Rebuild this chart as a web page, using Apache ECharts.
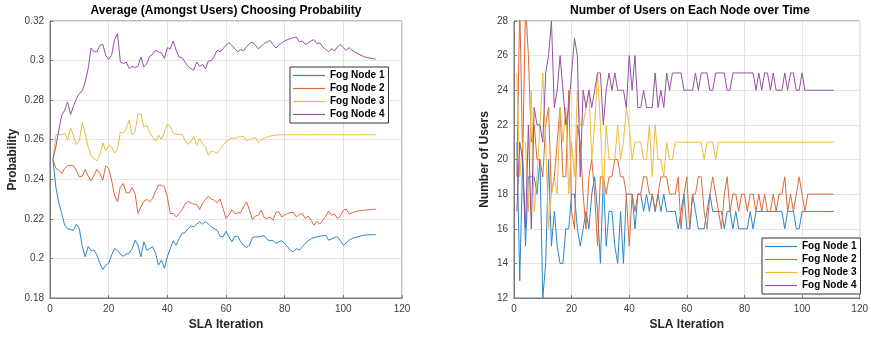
<!DOCTYPE html>
<html>
<head>
<meta charset="utf-8">
<script src="https://cdn.jsdelivr.net/npm/echarts@6/dist/echarts.min.js"></script>
<style>
html,body{margin:0;padding:0;background:#fff;}
#chart{width:871px;height:338px;}
</style>
</head>
<body>
<div id="chart"></div>
<script>
// ---------- data ----------
const seriesNames = ['Fog Node 1', 'Fog Node 2', 'Fog Node 3', 'Fog Node 4'];
const xTicks = [0, 20, 40, 60, 80, 100, 120];
const probTicks = [0.18, 0.20, 0.22, 0.24, 0.26, 0.28, 0.30, 0.32];
const userTicks = [12, 14, 16, 18, 20, 22, 24, 26, 28];

// Average choosing probability (iterations 1..111)
const probNode1 = [
0.25,0.236,0.228,0.2227,0.2168,0.215,0.2146,0.2142,0.2173,0.215,
0.206,0.2008,0.206,0.204,0.2042,0.2017,0.1975,0.1944,0.1966,0.1975,
0.2017,0.205,0.204,0.2022,0.2011,0.2022,0.2025,0.205,0.2092,0.2067,
0.2008,0.2084,0.2042,0.205,0.2059,0.2025,0.1966,0.1992,0.195,0.2008,
0.205,0.2089,0.2067,0.2101,0.2126,0.213,0.215,0.2163,0.216,0.2173,
0.2185,0.2173,0.2188,0.2173,0.216,0.215,0.2142,0.2112,0.2109,0.2137,
0.2109,0.2084,0.2112,0.2112,0.2084,0.2067,0.2055,0.2067,0.2106,0.2109,
0.2109,0.2112,0.2115,0.2096,0.2089,0.2092,0.2076,0.2084,0.2089,0.2076,
0.2059,0.2039,0.2034,0.205,0.2042,0.2059,0.2076,0.2089,0.2099,0.2106,
0.2109,0.2112,0.2115,0.2117,0.2092,0.2099,0.2106,0.2109,0.2089,0.2067,
0.2079,0.2092,0.2101,0.2106,0.211,0.2114,0.2117,0.2119,0.212,0.212,0.212];
const probNode2 = [
0.25,0.2455,0.2446,0.2429,0.2455,0.2468,0.2471,0.2468,0.2443,0.2412,
0.2416,0.245,0.2416,0.2392,0.2421,0.245,0.2429,0.2396,0.2468,0.2455,
0.2396,0.232,0.2286,0.2362,0.2379,0.2331,0.2331,0.2358,0.2328,0.2227,
0.2261,0.2289,0.2298,0.2286,0.2303,0.2341,0.237,0.237,0.2362,0.2311,
0.2227,0.2227,0.221,0.2227,0.2244,0.2274,0.2289,0.2281,0.2274,0.2274,
0.2247,0.2278,0.2298,0.2315,0.23,0.2294,0.2281,0.23,0.2252,0.2202,
0.2219,0.2247,0.2227,0.223,0.2232,0.2261,0.2286,0.2244,0.2197,0.2214,
0.2219,0.2244,0.2207,0.2202,0.221,0.2193,0.2232,0.2236,0.221,0.2219,
0.2227,0.2232,0.2232,0.221,0.2222,0.2227,0.2202,0.2214,0.2193,0.2168,
0.2188,0.2173,0.2193,0.2214,0.224,0.2219,0.2224,0.2202,0.2214,0.2244,
0.2249,0.2224,0.223,0.2236,0.2239,0.2242,0.2244,0.2245,0.2247,0.2247,0.2249];
const probNode3 = [
0.25,0.2623,0.2628,0.2623,0.2634,0.2598,0.266,0.2623,0.2576,0.2595,
0.2685,0.2631,0.2564,0.2517,0.2505,0.2493,0.2522,0.2584,0.2543,0.2572,
0.2564,0.2533,0.255,0.2639,0.2634,0.2656,0.2698,0.2623,0.2639,0.2732,
0.2729,0.2665,0.2673,0.2634,0.2614,0.2592,0.2623,0.2601,0.2639,0.2678,
0.2668,0.2634,0.2628,0.2626,0.2628,0.2598,0.2577,0.2589,0.2618,0.2572,
0.2606,0.258,0.2564,0.2522,0.2543,0.2538,0.253,0.255,0.2572,0.2589,
0.2601,0.2609,0.2606,0.2614,0.2614,0.2618,0.2595,0.2601,0.2606,0.2611,
0.2584,0.2598,0.2608,0.2613,0.2618,0.2621,0.2623,0.2624,0.2625,0.2625,
0.2625,0.2625,0.2625,0.2625,0.2625,0.2625,0.2625,0.2625,0.2625,0.2625,
0.2625,0.2625,0.2625,0.2625,0.2625,0.2625,0.2625,0.2625,0.2625,0.2625,
0.2625,0.2625,0.2625,0.2625,0.2625,0.2625,0.2625,0.2625,0.2625,0.2625,0.2625];
const probNode4 = [
0.25,0.2564,0.2648,0.2724,0.2749,0.2791,0.2727,0.2769,0.2808,0.2833,
0.2847,0.2892,0.2959,0.3064,0.3044,0.3044,0.3077,0.3082,0.3027,0.3005,
0.3027,0.3106,0.3136,0.2993,0.2985,0.2993,0.2959,0.2971,0.2965,0.2971,
0.3018,0.2968,0.2985,0.3022,0.3032,0.3052,0.3044,0.3039,0.301,0.3065,
0.306,0.3099,0.3052,0.3018,0.3015,0.2993,0.2971,0.2959,0.2951,0.2993,
0.2971,0.2981,0.2959,0.2998,0.3,0.3022,0.3052,0.3044,0.306,0.3077,
0.309,0.3077,0.306,0.3044,0.3056,0.3049,0.3069,0.3086,0.3094,0.3077,
0.306,0.3072,0.3086,0.3094,0.3102,0.3082,0.3064,0.3077,0.3089,0.3099,
0.3106,0.3111,0.3116,0.3119,0.3094,0.3099,0.3082,0.3089,0.3099,0.3106,
0.3086,0.3089,0.3069,0.3056,0.3044,0.306,0.3049,0.3069,0.3082,0.3065,
0.3052,0.3065,0.3052,0.3042,0.3034,0.3027,0.302,0.3015,0.3012,0.301,0.3008];

// Number of users on each node (iterations 1..111)
const usersNode1 = [
21,13,20,15,19,19,19,18,20,12,
14,20,15,17,15,14,14,16,16,18,
18,16,15,16,17,16,18,19,17,14,
19,15,17,17,15,14,17,14,18,18,
18,16,18,18,17,18,17,18,17,18,
17,18,17,17,17,17,16,17,18,16,
16,18,17,16,16,16,17,18,17,17,
17,17,16,17,17,16,17,16,16,16,
16,17,16,17,17,17,17,17,17,17,
17,17,17,16,17,17,17,16,16,17,
17,17,17,17,17,17,17,17,17,17,17];
const usersNode2 = [
19,29,20,29,26,21,22,20,20,19,
22,23,18,19,21,23,19,19,24,17,
16,22,21,18,16,19,20,18,15,19,
19,18,19,19,20,20,19,19,18,15,
18,17,18,18,19,19,18,18,17,18,
19,19,19,18,18,18,19,16,18,19,
16,18,18,19,19,17,16,18,19,18,
17,16,18,19,17,18,18,17,18,18,
17,18,18,17,18,17,18,17,17,18,
17,18,18,19,17,18,17,18,19,18,
17,18,18,18,18,18,18,18,18,18,18];
const usersNode3 = [
25,19,21,21,17,24,17,19,22,25,
21,16,18,19,18,23,21,23,18,21,
19,24,22,22,23,24,20,22,25,22,
18,22,20,20,20,22,20,21,23,22,
20,21,21,21,20,20,22,19,22,20,
20,19,21,20,20,21,21,21,21,21,
21,21,21,21,21,20,21,21,21,20,
21,21,21,21,21,21,21,21,21,21,
21,21,21,21,21,21,21,21,21,21,
21,21,21,21,21,21,21,21,21,21,
21,21,21,21,21,21,21,21,21,21,21];
const usersNode4 = [
17,21,20,16,22,16,23,22,22,21,
25,26,28,23,24,26,24,22,23,25,
27,26,19,24,23,24,23,24,25,25,
22,24,25,24,25,24,24,24,23,26,
24,26,23,23,24,23,23,23,25,23,
24,23,25,24,25,25,25,25,24,24,
24,24,25,24,25,25,25,24,24,25,
25,25,25,24,24,25,25,25,25,25,
25,25,25,24,25,24,25,25,24,25,
24,24,24,25,24,25,25,24,24,25,
24,24,24,24,24,24,24,24,24,24,24];

const colors = ['#2a86c9', '#dd6838', '#eebb3c', '#94509f'];

// ---------- build ----------
const iterations = probNode1.map((_, k) => k + 1);
const pairs = arr => arr.map((v, k) => [iterations[k], v]);

const axisColor = '#7a7a7a';
const labelColor = '#404040';
const gridColor = '#e4e4e4';
const font = '"Liberation Sans", Arial, Helvetica, sans-serif';

function xAxisDef(gi) {
  return {
    gridIndex: gi, type: 'value',
    min: xTicks[0], max: xTicks[xTicks.length - 1], interval: xTicks[1] - xTicks[0],
    axisLine: { show: true, lineStyle: { color: axisColor, width: 1 } },
    axisTick: { show: true, inside: true, length: 3, lineStyle: { color: axisColor } },
    axisLabel: { color: labelColor, fontSize: 10, margin: 6, fontFamily: font },
    splitLine: { show: true, lineStyle: { color: gridColor, width: 1 } },
    name: 'SLA Iteration', nameLocation: 'middle', nameGap: 20,
    nameTextStyle: { fontWeight: 'bold', fontSize: 12, color: '#262626', fontFamily: font }
  };
}
function yAxisDef(gi, ticks, name, gap, fmt) {
  return {
    gridIndex: gi, type: 'value',
    min: ticks[0], max: ticks[ticks.length - 1],
    interval: +(ticks[1] - ticks[0]).toFixed(4),
    axisLine: { show: true, lineStyle: { color: axisColor, width: 1 } },
    axisTick: { show: true, inside: true, length: 3, lineStyle: { color: axisColor } },
    axisLabel: { color: labelColor, fontSize: 10, margin: 6, fontFamily: font, formatter: fmt },
    splitLine: { show: true, lineStyle: { color: gridColor, width: 1 } },
    name: name, nameLocation: 'middle', nameGap: gap, nameRotate: 90,
    nameTextStyle: { fontWeight: 'bold', fontSize: 12, color: '#262626', fontFamily: font }
  };
}
function legendDef(left, top) {
  return {
    orient: 'vertical', left: left, top: top,
    backgroundColor: '#fff', borderColor: '#333', borderWidth: 1,
    padding: [2, 4, 2, 3], itemGap: 0, itemWidth: 32, itemHeight: 1.2,
    icon: 'rect',
    textStyle: { fontSize: 10, fontWeight: 'bold', color: '#000', lineHeight: 13, fontFamily: font },
    data: seriesNames
  };
}
function lineSeries(name, data, xi, color) {
  return {
    name: name, type: 'line', xAxisIndex: xi, yAxisIndex: xi,
    data: data, symbol: 'none', showSymbol: false, clip: true,
    lineStyle: { color: color, width: 1 }, itemStyle: { color: color },
    emphasis: { disabled: true }
  };
}

const probSets = [probNode1, probNode2, probNode3, probNode4];
const userSets = [usersNode1, usersNode2, usersNode3, usersNode4];

const option = {
  animation: false,
  backgroundColor: '#fff',
  textStyle: { fontFamily: font },
  title: [
    { text: 'Average (Amongst Users) Choosing Probability', left: 226, top: 5, textAlign: 'center', padding: 0,
      textStyle: { fontSize: 12, fontWeight: 'bold', color: '#000', fontFamily: font } },
    { text: 'Number of Users on Each Node over Time', left: 690, top: 5, textAlign: 'center', padding: 0,
      textStyle: { fontSize: 12, fontWeight: 'bold', color: '#000', fontFamily: font } }
  ],
  grid: [
    { left: 50, right: 469, top: 21, bottom: 40, show: true, borderColor: axisColor, borderWidth: 1, backgroundColor: 'transparent' },
    { left: 514, right: 5, top: 21, bottom: 40, show: true, borderColor: axisColor, borderWidth: 1, backgroundColor: 'transparent' }
  ],
  legend: [legendDef(290, 67), legendDef(762, 238)],
  xAxis: [xAxisDef(0), xAxisDef(1)],
  yAxis: [
    yAxisDef(0, probTicks, 'Probability', 31, v => String(+v.toFixed(2))),
    yAxisDef(1, userTicks, 'Number of Users', 23, v => String(v))
  ],
  series: [
    ...probSets.map((s, k) => lineSeries(seriesNames[k], pairs(s), 0, colors[k])),
    ...userSets.map((s, k) => lineSeries(seriesNames[k], pairs(s), 1, colors[k]))
  ]
};

const chart = echarts.init(document.getElementById('chart'), null, { renderer: 'canvas' });
chart.setOption(option);
</script>
</body>
</html>
